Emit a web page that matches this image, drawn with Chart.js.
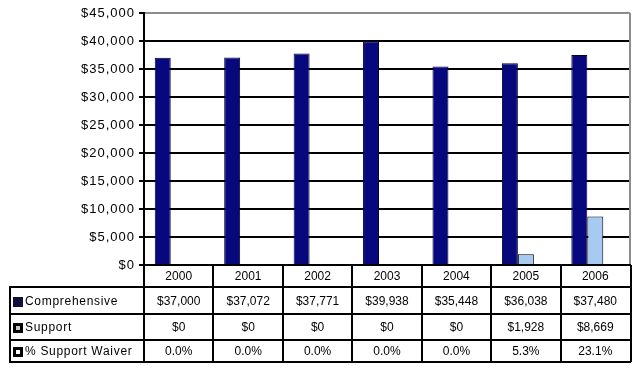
<!DOCTYPE html>
<html>
<head>
<meta charset="utf-8">
<script src="https://cdn.jsdelivr.net/npm/chart.js@4/dist/chart.umd.min.js"></script>
<style>
  html, body { margin: 0; padding: 0; background: #fff; }
  #c { display: block; }
</style>
</head>
<body>
<canvas id="c" width="641" height="376"></canvas>
<script>
// ---- data ----
const years = ['2000', '2001', '2002', '2003', '2004', '2005', '2006'];
const comprehensive = [37000, 37072, 37771, 39938, 35448, 36038, 37480];
const support = [0, 0, 0, 0, 0, 1928, 8669];
const supportWaiverPct = [0.0, 0.0, 0.0, 0.0, 0.0, 5.3, 23.1];
const seriesNames = ['Comprehensive', 'Support', '% Support Waiver'];
const yTicks = [0, 5000, 10000, 15000, 20000, 25000, 30000, 35000, 40000, 45000];

const FONT = '"Liberation Sans", Arial, sans-serif';
const NAVY = '#08087e';
const LIGHT = '#a6caf0';

function money(v) { return '$' + v.toLocaleString('en-US'); }
function pct(v) { return v.toFixed(1) + '%'; }

const tableRows = [
  { name: seriesNames[0], values: comprehensive.map(money), marker: 'navy' },
  { name: seriesNames[1], values: support.map(money), marker: 'light' },
  { name: seriesNames[2], values: supportWaiverPct.map(pct), marker: 'white' }
];

const tablePlugin = {
  id: 'dataTable',
  beforeDraw(chart) {
    chart.ctx.letterSpacing = '1px';
  },
  afterDraw(chart) {
    const ctx = chart.ctx;
    const xs = chart.scales.x;
    const area = chart.chartArea;
    const left = area.left, right = area.right + 1;
    const tableLeft = 10;
    const rowY = [area.bottom, area.bottom + 22, area.bottom + 49, area.bottom + 75, area.bottom + 97];
    const n = years.length;
    const bounds = [left];
    for (let i = 1; i < n; i++) bounds.push(Math.round((xs.getPixelForValue(i - 1) + xs.getPixelForValue(i)) / 2));
    bounds.push(right);

    ctx.save();
    ctx.letterSpacing = '0px';
    // right gray border of plot area
    ctx.strokeStyle = '#8c8c8c';
    ctx.lineWidth = 2;
    ctx.beginPath();
    ctx.moveTo(area.right, area.top);
    ctx.lineTo(area.right, area.bottom);
    ctx.stroke();

    // table lines
    ctx.strokeStyle = '#000';
    ctx.lineWidth = 2;
    ctx.beginPath();
    ctx.moveTo(left, rowY[0]); ctx.lineTo(right, rowY[0]);
    for (let r = 1; r < rowY.length; r++) {
      ctx.moveTo(tableLeft, rowY[r]); ctx.lineTo(right, rowY[r]);
    }
    for (let i = 0; i < bounds.length; i++) {
      ctx.moveTo(bounds[i], rowY[0]); ctx.lineTo(bounds[i], rowY[4]);
    }
    ctx.moveTo(tableLeft, rowY[1] - 1); ctx.lineTo(tableLeft, rowY[4] + 1);
    ctx.stroke();

    // header year labels
    ctx.fillStyle = '#000';
    ctx.font = '12px ' + FONT;
    ctx.textAlign = 'center';
    ctx.textBaseline = 'middle';
    for (let i = 0; i < n; i++) {
      ctx.fillText(years[i], xs.getPixelForValue(i), (rowY[0] + rowY[1]) / 2 + 1);
    }
    // rows
    tableRows.forEach((row, r) => {
      const yc = (rowY[r + 1] + rowY[r + 2]) / 2 + 1;
      ctx.textAlign = 'center';
      ctx.letterSpacing = '0px';
      ctx.font = '12px ' + FONT;
      for (let i = 0; i < n; i++) {
        ctx.fillText(row.values[i], xs.getPixelForValue(i), yc);
      }
      // marker
      const mx = 13, my = Math.round(yc - 5), ms = 10;
      if (row.marker === 'navy') {
        ctx.fillStyle = '#10103a';
        ctx.fillRect(mx, my, ms, ms);
      } else {
        ctx.fillStyle = '#000';
        ctx.fillRect(mx, my, ms, ms);
        ctx.fillStyle = row.marker === 'light' ? '#c8c8d0' : '#fff';
        ctx.fillRect(mx + 3, my + 3, ms - 6, ms - 6);
      }
      ctx.fillStyle = '#000';
      ctx.textAlign = 'left';
      ctx.letterSpacing = '0.7px';
      ctx.font = '12px ' + FONT;
      ctx.fillText(row.name, 25, yc);
    });
    ctx.restore();
  }
};

new Chart(document.getElementById('c'), {
  type: 'bar',
  data: {
    labels: years,
    datasets: [
      { label: seriesNames[0], data: comprehensive, backgroundColor: NAVY, borderColor: '#000030', borderWidth: 1 },
      { label: seriesNames[1], data: support, backgroundColor: LIGHT, borderColor: '#000', borderWidth: 1 },
      { label: seriesNames[2], data: supportWaiverPct, backgroundColor: '#fff', borderColor: '#fff', borderWidth: 0 }
    ]
  },
  options: {
    responsive: false,
    animation: false,
    devicePixelRatio: 1,
    layout: { padding: { top: 13, right: 11, bottom: 111, left: 0 } },
    datasets: { bar: { categoryPercentage: 0.69, barPercentage: 1.0 } },
    plugins: { legend: { display: false }, tooltip: { enabled: false } },
    scales: {
      x: {
        type: 'category',
        offset: true,
        grid: { display: false },
        border: { display: false },
        ticks: { display: false },
        afterFit(scale) { scale.height = 0; }
      },
      y: {
        min: 0,
        max: 45000,
        afterBuildTicks(scale) { scale.ticks = yTicks.map(v => ({ value: v })); },
        afterFit(scale) { scale.width = 144; },
        ticks: {
          color: '#000',
          font: { family: FONT, size: 13 },
          padding: 4,
          callback: v => money(v)
        },
        grid: {
          color: ctx => (ctx.tick && ctx.tick.value === 45000) ? '#8c8c8c' : '#000',
          tickColor: '#000',
          lineWidth: 2,
          drawTicks: true,
          tickLength: 5
        },
        border: { color: '#000', width: 2 }
      }
    }
  },
  plugins: [tablePlugin]
});
</script>
</body>
</html>
